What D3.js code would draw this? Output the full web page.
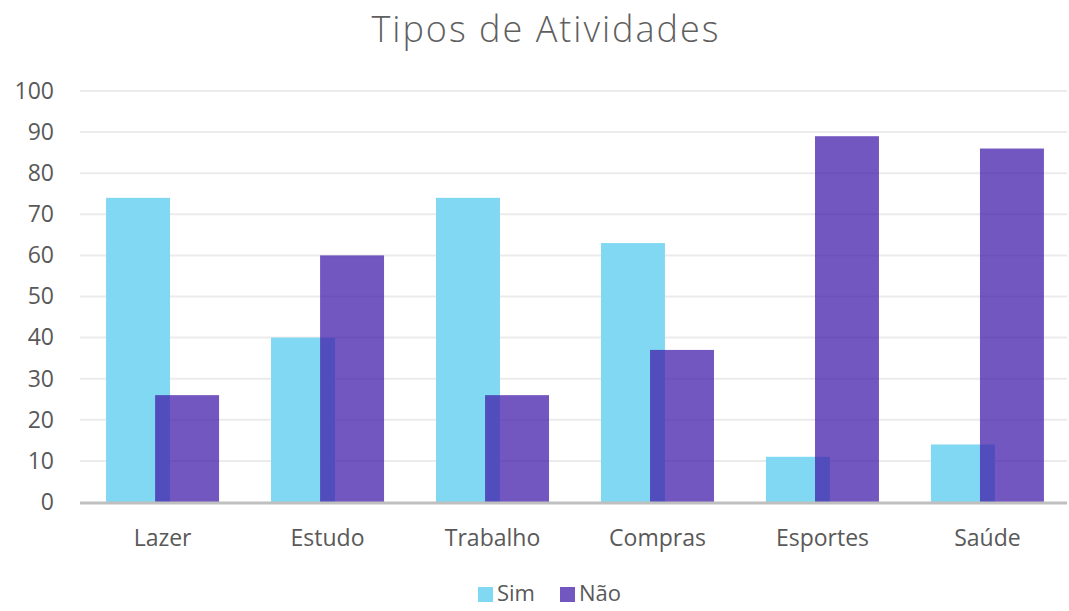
<!DOCTYPE html>
<html>
<head>
<meta charset="utf-8">
<script src="https://cdn.jsdelivr.net/npm/d3@7"></script>
<style>
    body { margin: 0; background: #fff; }
    text { font-family: "Open Sans", "Noto Sans", sans-serif; fill: #595959; }
</style>
</head>
<body>
<script>
// chart data
var categories = ["Lazer", "Estudo", "Trabalho", "Compras", "Esportes", "Saúde"];
var simValues = [74, 40, 74, 63, 11, 14];
var naoValues = [26, 60, 26, 37, 89, 86];
var seriesNames = ["Sim", "Não"];
var yTicks = [0, 10, 20, 30, 40, 50, 60, 70, 80, 90, 100];

var width = 1069, height = 611;
var margin = {top: 91, right: 0, bottom: 109, left: 80};

var svg = d3.select("body").append("svg")
    .attr("width", width)
    .attr("height", height);

var x = d3.scaleBand()
    .domain(categories)
    .range([margin.left, width + 1])
    .paddingInner(0.315)
    .paddingOuter(0.158);

var y = d3.scaleLinear()
    .domain([0, 100])
    .range([height - margin.bottom, margin.top]);

var barW = x.bandwidth() * 0.566,
    offset = x.bandwidth() - barW;

// gridlines
svg.append("g")
    .selectAll("line")
    .data(yTicks.slice(1))
    .join("line")
    .attr("x1", margin.left)
    .attr("x2", width - 2)
    .attr("y1", function(d) { return y(d); })
    .attr("y2", function(d) { return y(d); })
    .style("stroke", "#ebebeb")
    .style("stroke-width", 2);

// y axis labels
var yAxis = d3.axisLeft(y).tickValues(yTicks).tickSize(0).tickPadding(0);
svg.append("g")
    .attr("transform", "translate(54,0)")
    .call(yAxis)
    .call(function(g) { g.select(".domain").remove(); })
    .selectAll("text")
    .style("font-family", "'Open Sans', sans-serif")
    .style("font-size", "23px")
    .style("fill", "#595959");

// sim bars
svg.append("g")
    .selectAll("rect")
    .data(simValues)
    .join("rect")
    .attr("x", function(d, i) { return x(categories[i]); })
    .attr("y", function(d) { return y(d); })
    .attr("width", barW)
    .attr("height", function(d) { return y(0) - y(d); })
    .style("fill", "#80d8f2");

// nao bars, semi transparent over sim
svg.append("g")
    .selectAll("rect")
    .data(naoValues)
    .join("rect")
    .attr("x", function(d, i) { return x(categories[i]) + offset; })
    .attr("y", function(d) { return y(d); })
    .attr("width", barW)
    .attr("height", function(d) { return y(0) - y(d); })
    .style("fill", "rgb(66,28,170)")
    .style("fill-opacity", 0.74);

// baseline
svg.append("line")
    .attr("x1", margin.left)
    .attr("x2", width - 2)
    .attr("y1", y(0) + 1)
    .attr("y2", y(0) + 1)
    .style("stroke", "#bfbfbf")
    .style("stroke-width", 3);

// x axis labels
var xAxis = d3.axisBottom(x).tickSize(0).tickPadding(0);
svg.append("g")
    .attr("transform", "translate(0," + (y(0) + 28) + ")")
    .call(xAxis)
    .call(function(g) { g.select(".domain").remove(); })
    .selectAll("text")
    .style("font-family", "'Open Sans', sans-serif")
    .style("font-size", "23px")
    .style("fill", "#595959");

// title
svg.append("text")
    .attr("x", 546)
    .attr("y", 42)
    .attr("text-anchor", "middle")
    .style("font-size", "36px")
    .style("font-weight", 300)
    .style("letter-spacing", "2px")
    .style("fill", "#5f5f5f")
    .text("Tipos de Atividades");

// legend
var legendColors = ["#80d8f2", "rgba(66,28,170,0.74)"];
var legend = svg.append("g")
    .selectAll("g")
    .data(seriesNames)
    .join("g")
    .attr("transform", function(d, i) {
        return "translate(" + (478 + i * 82) + ",593)";
    });

legend.append("rect")
    .attr("x", 0)
    .attr("y", -6)
    .attr("width", 15)
    .attr("height", 15)
    .style("fill", function(d, i) { return legendColors[i]; });

legend.append("text")
    .attr("x", 19)
    .attr("y", 8)
    .style("font-size", "22px")
    .text(function(d) { return d; });
</script>
</body>
</html>
